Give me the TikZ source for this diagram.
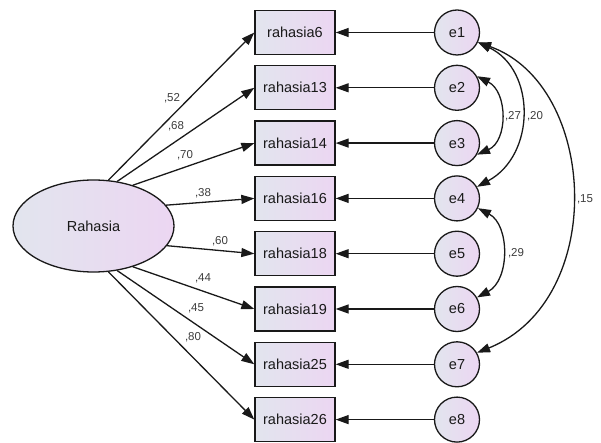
\documentclass[tikz,border=0pt]{standalone}
\usepackage{fontspec}
\setmainfont{Liberation Sans}
\usetikzlibrary{arrows.meta,shapes.geometric}

\definecolor{fillL}{RGB}{226,229,238}
\definecolor{fillR}{RGB}{236,214,242}
\definecolor{ink}{RGB}{25,25,25}
\definecolor{numink}{RGB}{60,60,60}

\tikzset{
  shaded/.style={left color=fillL, right color=fillR, draw=ink, line width=1.3pt},
  latent/.style={shaded, ellipse, minimum width=161pt, minimum height=92pt, inner sep=0pt,
    font=\fontsize{14.5}{16}\selectfont, text=ink},
  observed/.style={shaded, rectangle, minimum width=80pt, minimum height=44pt, inner sep=0pt,
    font=\fontsize{14.5}{16}\selectfont, text=ink},
  errorvar/.style={shaded, circle, minimum size=45pt, inner sep=0pt,
    font=\fontsize{14.5}{16}\selectfont, text=ink},
  lbl/.style={font=\fontsize{11.5}{13}\selectfont, text=numink, inner sep=0pt},
  path/.style={draw=ink, line width=1.3pt, -{Triangle[length=13pt,width=9pt]}},
  cov/.style={draw=ink, line width=1.3pt, {Triangle[length=13pt,width=9pt]}-{Triangle[length=13pt,width=9pt]}}
}

\begin{document}
\begin{tikzpicture}[x=1pt,y=-1pt]
\useasboundingbox (0,0) rectangle (601,443);

% latent factor
\node[latent] (R) at (93.5,226) {Rahasia};

% indicators and their error terms
\foreach \n/\i in {6/0,13/1,14/2,16/3,18/4,19/5,25/6,26/7}{
  \pgfmathsetmacro{\yy}{32.5+55.3*\i}
  \node[observed] (v\n) at (295,\yy) {rahasia\n};
}
\foreach \k/\i in {1/0,2/1,3/2,4/3,5/4,6/5,7/6,8/7}{
  \pgfmathsetmacro{\yy}{32.5+55.3*\i}
  \node[errorvar] (e\k) at (457,\yy) {e\k};
}

% factor loadings
\draw[path] (R.72)  -- (v6.west);
\draw[path] (R.62)  -- (v13.west);
\draw[path] (R.46)  -- (v14.west);
\draw[path] (R.16)  -- (v16.west);
\draw[path] (R.-15) -- (v18.west);
\draw[path] (R.-46) -- (v19.west);
\draw[path] (R.-62) -- (v25.west);
\draw[path] (R.-72) -- (v26.west);

\node[lbl] (l52) at (172,98)  {,52};
\node[lbl] (l68) at (176,126) {,68};
\node[lbl] (l70) at (185,155) {,70};
\node[lbl] (l38) at (203,193) {,38};
\node[lbl] (l60) at (220,241) {,60};
\node[lbl] (l44) at (203,278) {,44};
\node[lbl] (l45) at (196,308) {,45};
\node[lbl] (l80) at (193,337) {,80};

% error paths
\draw[path] (e1) -- (v6);
\draw[path] (e2) -- (v13);
\draw[path] (e3) -- (v14);
\draw[path] (e4) -- (v16);
\draw[path] (e5) -- (v18);
\draw[path] (e6) -- (v19);
\draw[path] (e7) -- (v25);
\draw[path] (e8) -- (v26);

% error covariances
\draw[cov] (e2.30) .. controls (508,92) and (508,141) .. (e3.-30);
\draw[cov] (e1.-25) .. controls (536,70) and (536,155) .. (e4.30);
\draw[cov] (e4.-25) .. controls (510,225) and (510,280) .. (e6.30);
\draw[cov] (e1.-25) .. controls (598,85) and (608,300) .. (e7.30);

\node[lbl] (c27) at (513,116) {,27};
\node[lbl] (c20) at (535,116) {,20};
\node[lbl] (c29) at (516,253) {,29};
\node[lbl] (c15) at (585,199) {,15};
\end{tikzpicture}
\end{document}
